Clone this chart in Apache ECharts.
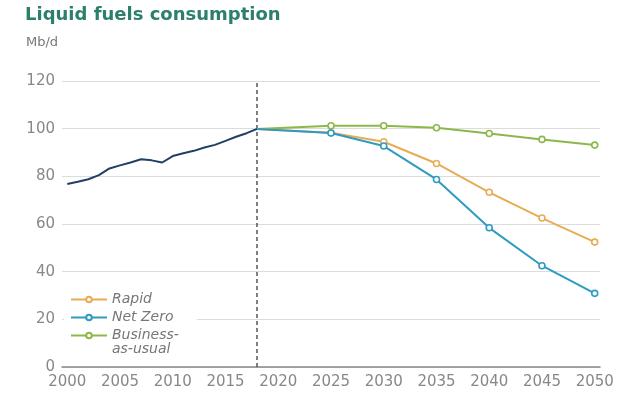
<!DOCTYPE html>
<html><head><meta charset="utf-8">
<script src="https://cdn.jsdelivr.net/npm/echarts@6/dist/echarts.min.js"></script>
<style>html,body{margin:0;padding:0;background:#fff}#c{width:620px;height:394px}</style>
</head><body><div id="c"></div>
<script>
const histYears = [2000,2001,2002,2003,2004,2005,2006,2007,2008,2009,2010,2011,2012,2013,2014,2015,2016,2017,2018];
const histValues = [76.8,77.7,78.8,80.5,83.3,84.6,85.8,87.2,86.7,85.8,88.5,89.7,90.7,92.1,93.2,94.9,96.6,98.1,99.9];
const projYears = [2018,2025,2030,2035,2040,2045,2050];
const rapidValues = [99.9,98.3,94.5,85.4,73.3,62.5,52.4];
const netZeroValues = [99.9,98.2,92.7,78.7,58.4,42.5,30.9];
const bauValues = [99.9,101.2,101.2,100.4,98.0,95.5,93.1];
const xTickLabels = [2000,2005,2010,2015,2020,2025,2030,2035,2040,2045,2050];
const yTicks = [0,20,40,60,80,100,120];
const dividerYear = 2018;

const pair = (xs, ys) => xs.map((x, i) => i === 0 ? {value: [x, ys[i]], symbolSize: 0} : [x, ys[i]]);
const FONT = 'DejaVu Sans';
const chart = echarts.init(document.getElementById('c'), null, {renderer: 'canvas'});
const proj = (name, color, vals, z) => ({
  name, type: 'line', data: pair(projYears, vals), z,
  symbol: 'circle', symbolSize: 6, showSymbol: true,
  lineStyle: {color, width: 2}, itemStyle: {color: '#fff', borderColor: color, borderWidth: 1.6},
  emphasis: {disabled: true}, animation: false
});
chart.setOption({
  animation: false,
  title: [
    {text: 'Liquid fuels consumption', left: 20, top: 1,
     textStyle: {fontFamily: FONT, fontSize: 18, fontWeight: 'bold', color: '#2b7f6b'}},
    {text: 'Mb/d', left: 21, top: 31,
     textStyle: {fontFamily: FONT, fontSize: 13, fontWeight: 'normal', color: '#777'}}
  ],
  grid: {left: 62, right: 20, top: 81, bottom: 27, containLabel: false},
  xAxis: {
    type: 'value', min: 1999.5, max: 2050.5,
    axisLine: {show: true, lineStyle: {color: '#888', width: 1.5}},
    axisTick: {show: false},
    splitLine: {show: false},
    axisLabel: {customValues: xTickLabels, fontFamily: FONT, fontSize: 15, color: '#888', margin: 8,
      formatter: v => String(v)}
  },
  yAxis: {
    type: 'value', min: 0, max: 120, interval: 20,
    axisLine: {show: false}, axisTick: {show: false},
    splitLine: {lineStyle: {color: '#dcdcdc', width: 1.2}},
    axisLabel: {fontFamily: FONT, fontSize: 15, color: '#888', margin: 7}
  },
  legend: {
    left: 64, top: 291, orient: 'vertical', itemGap: 3, itemWidth: 36, itemHeight: 7,
    backgroundColor: '#fff', padding: [1, 18, 1, 6],
    data: ['Rapid', 'Net Zero', 'Business-as-usual'],
    formatter: n => n === 'Business-as-usual' ? 'Business-' : n,
    textStyle: {fontFamily: FONT, fontSize: 14, fontStyle: 'italic', color: '#777', lineHeight: 15}
  },
  graphic: [{type: 'text', left: 112, top: 342, z: 100,
    style: {text: 'as-usual', font: 'italic 14px "DejaVu Sans"', fill: '#777'}}],
  series: [
    {name: 'History', type: 'line', data: histYears.map((y, i) => [y, histValues[i]]),
     showSymbol: false, lineStyle: {color: '#233f63', width: 2}, z: 3,
     markLine: {silent: true, symbol: 'none', label: {show: false},
       lineStyle: {color: '#555', type: [4, 3], width: 1.5},
       data: [{xAxis: dividerYear}]}},
    proj('Business-as-usual', '#8cb84a', bauValues, 4),
    proj('Rapid', '#e8ac55', rapidValues, 5),
    proj('Net Zero', '#2e9bc0', netZeroValues, 6)
  ]
});
</script></body></html>
